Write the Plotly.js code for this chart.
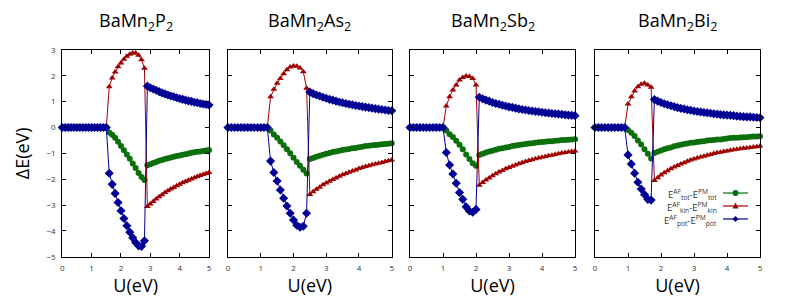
<!DOCTYPE html>
<html><head><meta charset="utf-8">
<script src="https://cdn.plot.ly/plotly-3.0.1.min.js"></script>
<style>html,body{margin:0;padding:0;background:#fff}#plot{width:793px;height:297px}</style>
</head><body><div id="plot"></div>
<script>
// ---- data ----
const U = [0,0.1,0.2,0.3,0.4,0.5,0.6,0.7,0.8,0.9,1.0,1.1,1.2,1.3,1.4,1.5,1.6,1.7,1.8,1.9,2.0,2.1,2.2,2.3,2.4,2.5,2.6,2.7,2.8,2.9,3.0,3.1,3.2,3.3,3.4,3.5,3.6,3.7,3.8,3.9,4.0,4.1,4.2,4.3,4.4,4.5,4.6,4.7,4.8,4.9,5.0];
const compounds = ['BaMn<sub>2</sub>P<sub>2</sub>','BaMn<sub>2</sub>As<sub>2</sub>','BaMn<sub>2</sub>Sb<sub>2</sub>','BaMn<sub>2</sub>Bi<sub>2</sub>'];
const seriesNames = ['E<sup>AF</sup><sub>tot</sub>-E<sup>PM</sup><sub>tot</sub>','E<sup>AF</sup><sub>kin</sub>-E<sup>PM</sup><sub>kin</sub>','E<sup>AF</sup><sub>pot</sub>-E<sup>PM</sup><sub>pot</sub>'];
const xTitle = 'U(eV)';
const yTitle = 'ΔE(eV)';

const p1Tot = [0,0,0,0,0,0,0,0,0,0,0,0,0,0,0,0,-0.19,-0.28,-0.40,-0.55,-0.72,-0.88,-1.04,-1.21,-1.39,-1.57,-1.76,-1.92,-2.03,-1.46,-1.42,-1.37,-1.33,-1.29,-1.26,-1.22,-1.19,-1.16,-1.13,-1.10,-1.08,-1.05,-1.03,-1.01,-0.98,-0.96,-0.94,-0.93,-0.91,-0.89,-0.87];
const p1Kin = [0,0,0,0,0,0,0,0,0,0,0,0,0,0,0,0,1.58,1.92,2.15,2.35,2.50,2.64,2.76,2.84,2.88,2.88,2.80,2.62,2.29,-3.06,-2.96,-2.86,-2.77,-2.68,-2.60,-2.52,-2.45,-2.38,-2.32,-2.25,-2.20,-2.14,-2.09,-2.04,-1.99,-1.94,-1.90,-1.86,-1.82,-1.78,-1.74];
const p1Pot = [0,0,0,0,0,0,0,0,0,0,0,0,0,0,0,0,-1.77,-2.20,-2.55,-2.90,-3.22,-3.52,-3.80,-4.05,-4.27,-4.45,-4.58,-4.60,-4.38,1.60,1.54,1.49,1.44,1.39,1.34,1.30,1.26,1.22,1.19,1.15,1.12,1.09,1.06,1.03,1.01,0.98,0.96,0.93,0.91,0.89,0.87];

const p2Tot = [0,0,0,0,0,0,0,0,0,0,0,0,0,-0.12,-0.27,-0.40,-0.54,-0.69,-0.84,-1.00,-1.17,-1.33,-1.48,-1.63,-1.78,-1.22,-1.18,-1.13,-1.09,-1.05,-1.02,-0.99,-0.95,-0.93,-0.90,-0.87,-0.85,-0.83,-0.80,-0.79,-0.76,-0.74,-0.72,-0.71,-0.69,-0.68,-0.67,-0.65,-0.64,-0.63,-0.61];
const p2Kin = [0,0,0,0,0,0,0,0,0,0,0,0,0,1.19,1.48,1.71,1.90,2.08,2.24,2.34,2.38,2.37,2.30,2.16,1.52,-2.59,-2.49,-2.39,-2.31,-2.22,-2.15,-2.08,-2.01,-1.95,-1.89,-1.83,-1.78,-1.73,-1.68,-1.64,-1.59,-1.55,-1.51,-1.48,-1.44,-1.41,-1.38,-1.35,-1.32,-1.29,-1.26];
const p2Pot = [0,0,0,0,0,0,0,0,0,0,0,0,0,-1.30,-1.74,-2.07,-2.42,-2.74,-3.04,-3.32,-3.58,-3.78,-3.86,-3.82,-3.32,1.37,1.31,1.26,1.22,1.17,1.13,1.09,1.06,1.02,0.99,0.96,0.93,0.90,0.88,0.85,0.83,0.81,0.79,0.77,0.75,0.73,0.71,0.70,0.68,0.66,0.65];

const p3Tot = [0,0,0,0,0,0,0,0,0,0,0,-0.12,-0.26,-0.37,-0.51,-0.67,-0.84,-1.04,-1.22,-1.38,-1.48,-1.06,-1.02,-0.97,-0.93,-0.90,-0.86,-0.82,-0.80,-0.77,-0.75,-0.72,-0.70,-0.68,-0.66,-0.64,-0.62,-0.61,-0.59,-0.57,-0.56,-0.55,-0.53,-0.53,-0.51,-0.50,-0.48,-0.48,-0.47,-0.46,-0.45];
const p3Kin = [0,0,0,0,0,0,0,0,0,0,0,0.83,1.19,1.45,1.65,1.84,1.94,1.99,1.97,1.90,1.65,-2.23,-2.13,-2.03,-1.95,-1.87,-1.79,-1.72,-1.66,-1.60,-1.55,-1.50,-1.45,-1.40,-1.36,-1.32,-1.28,-1.25,-1.21,-1.18,-1.15,-1.12,-1.09,-1.07,-1.04,-1.02,-0.99,-0.97,-0.95,-0.93,-0.91];
const p3Pot = [0,0,0,0,0,0,0,0,0,0,0,-0.97,-1.45,-1.80,-2.16,-2.52,-2.78,-3.07,-3.23,-3.28,-3.17,1.17,1.11,1.06,1.02,0.97,0.93,0.90,0.86,0.83,0.80,0.78,0.75,0.72,0.70,0.68,0.66,0.64,0.62,0.61,0.59,0.57,0.56,0.54,0.53,0.52,0.51,0.49,0.48,0.47,0.46];

const p4Tot = [0,0,0,0,0,0,0,0,0,0,-0.10,-0.20,-0.33,-0.50,-0.66,-0.84,-1.02,-1.20,-0.99,-0.94,-0.89,-0.84,-0.80,-0.77,-0.73,-0.70,-0.67,-0.64,-0.62,-0.59,-0.58,-0.56,-0.54,-0.53,-0.50,-0.49,-0.48,-0.46,-0.46,-0.44,-0.43,-0.41,-0.40,-0.40,-0.39,-0.38,-0.38,-0.36,-0.35,-0.35,-0.34];
const p4Kin = [0,0,0,0,0,0,0,0,0,0,0.91,1.19,1.41,1.58,1.67,1.71,1.65,1.56,-2.05,-1.94,-1.84,-1.75,-1.67,-1.60,-1.53,-1.47,-1.41,-1.36,-1.31,-1.26,-1.22,-1.18,-1.14,-1.11,-1.07,-1.04,-1.01,-0.98,-0.96,-0.93,-0.91,-0.88,-0.86,-0.84,-0.82,-0.80,-0.79,-0.77,-0.75,-0.74,-0.72];
const p4Pot = [0,0,0,0,0,0,0,0,0,0,-1.06,-1.41,-1.77,-2.12,-2.38,-2.59,-2.78,-2.81,1.08,1.02,0.97,0.92,0.88,0.84,0.81,0.77,0.74,0.72,0.69,0.67,0.64,0.62,0.60,0.58,0.57,0.55,0.53,0.52,0.50,0.49,0.48,0.47,0.46,0.44,0.43,0.42,0.41,0.41,0.40,0.39,0.38];

// ---- styling / layout ----
const W = 793, H = 297;
const FONT = 'Open Sans, Noto Sans, sans-serif';
const panelData = [[p1Tot,p1Kin,p1Pot],[p2Tot,p2Kin,p2Pot],[p3Tot,p3Kin,p3Pot],[p4Tot,p4Kin,p4Pot]];
const colors = ['#0b700b','#a00000','#000094'];
const symbols = ['circle','triangle-up','diamond'];
const msizes = [6,6,7];
const pxX = [[62.3,209],[228,391.7],[410,575],[595,760]];
const yTop = 50, yBot = 256.7;
const px = v => v / W, py = v => 1 - v / H;

const traces = [];
const layout = {
  width: W, height: H,
  margin: {l:0, r:0, t:0, b:0},
  paper_bgcolor: '#fff', plot_bgcolor: '#fff',
  showlegend: false,
  font: {family: FONT, color: '#000'},
  annotations: [], shapes: []
};

panelData.forEach((series, i) => {
  const n = i + 1;
  const xa = 'x' + (n === 1 ? '' : n), ya = 'y' + (n === 1 ? '' : n);
  series.forEach((vals, k) => {
    traces.push({
      x: U, y: vals, xaxis: xa, yaxis: ya,
      type: 'scatter', mode: 'lines+markers', name: seriesNames[k],
      cliponaxis: false,
      line: {color: colors[k], width: 1},
      marker: {color: colors[k], symbol: symbols[k], size: msizes[k]}
    });
  });
  const common = {
    showline: true, linecolor: '#000', linewidth: 1, mirror: 'ticks',
    ticks: 'inside', ticklen: 4, tickwidth: 1, tickcolor: '#000',
    showgrid: false, zeroline: false, fixedrange: true,
    tickfont: {size: 8, color: '#333', family: FONT}
  };
  layout['xaxis' + (n === 1 ? '' : n)] = Object.assign({}, common, {
    domain: [px(pxX[i][0]), px(pxX[i][1])], range: [0, 5], dtick: 1, tick0: 0,
    anchor: ya, ticklabelstandoff: 4,
    title: {text: xTitle, font: {size: 18, family: FONT}, standoff: 2}
  });
  const yax = Object.assign({}, common, {
    domain: [py(yBot), py(yTop)], range: [-5, 3], dtick: 1, tick0: -5,
    anchor: xa, showticklabels: n === 1, ticklabelstandoff: 4
  });
  if (n === 1) yax.title = {text: yTitle, font: {size: 18, family: FONT}, standoff: 12};
  layout['yaxis' + (n === 1 ? '' : n)] = yax;
  layout.annotations.push({
    text: compounds[i], xref: 'paper', yref: 'paper',
    x: px((pxX[i][0] + pxX[i][1]) / 2), y: py(21), xanchor: 'center', yanchor: 'middle',
    showarrow: false, font: {size: 18, family: FONT, color: '#000'}
  });
});

// legend (inside last panel, text left of sample)
const legRows = [193, 206, 219];
const lx0 = 723, lx1 = 748, lmx = 735.5;
seriesNames.forEach((name, k) => {
  const yy = legRows[k];
  layout.annotations.push({
    text: name, xref: 'paper', yref: 'paper', x: px(719), y: py(yy + 1),
    xanchor: 'right', yanchor: 'middle', showarrow: false,
    font: {size: 9.5, family: FONT, color: '#333'}
  });
  layout.shapes.push({type: 'line', xref: 'paper', yref: 'paper',
    x0: px(lx0), x1: px(lx1), y0: py(yy), y1: py(yy), line: {color: colors[k], width: 1.2}});
  const r = 3;
  let path;
  if (k === 0) {
    layout.shapes.push({type: 'circle', xref: 'paper', yref: 'paper',
      x0: px(lmx - r), x1: px(lmx + r), y0: py(yy + r), y1: py(yy - r),
      fillcolor: colors[k], line: {width: 0}});
  } else if (k === 1) {
    path = `M${px(lmx - r)},${py(yy + 2.5)} L${px(lmx + r)},${py(yy + 2.5)} L${px(lmx)},${py(yy - 3.5)} Z`;
    layout.shapes.push({type: 'path', xref: 'paper', yref: 'paper', path, fillcolor: colors[k], line: {width: 0}});
  } else {
    path = `M${px(lmx - r)},${py(yy)} L${px(lmx)},${py(yy - r)} L${px(lmx + r)},${py(yy)} L${px(lmx)},${py(yy + r)} Z`;
    layout.shapes.push({type: 'path', xref: 'paper', yref: 'paper', path, fillcolor: colors[k], line: {width: 0}});
  }
});

Plotly.newPlot('plot', traces, layout, {staticPlot: true, displayModeBar: false});
</script>
</body></html>
